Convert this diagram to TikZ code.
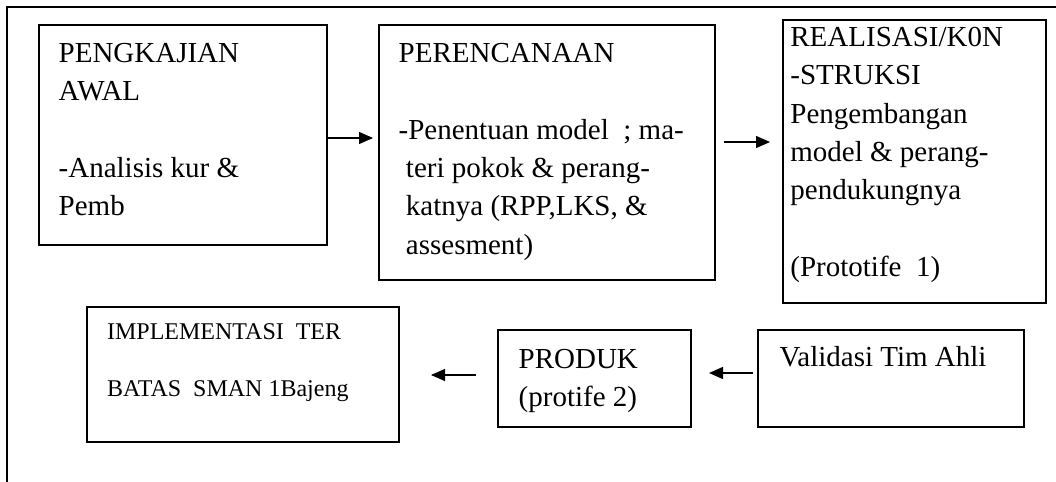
\documentclass[tikz,border=0pt]{standalone}
\usepackage{fontspec}
\setmainfont{Liberation Serif}
\usetikzlibrary{arrows.meta}
\newcommand{\boxlines}[1]{\begin{tabular}[t]{@{}l@{}}#1\end{tabular}}
\begin{document}
\begin{tikzpicture}[x=0.5pt,y=-0.5pt,
  stagebox/.style={draw,line width=1pt,inner sep=0pt,anchor=north west},
  txt/.style={anchor=base west,inner sep=0pt,font=\fontsize{14.5}{19.15}\selectfont},
  smalltxt/.style={anchor=base west,inner sep=0pt,font=\fontsize{12}{28.65}\selectfont},
  arr/.style={line width=0.65pt,-{Triangle[length=7pt,width=6pt]}},
  framelines/.style={line width=0.6pt}]
\useasboundingbox (0,0) rectangle (1056,482);
\fill[white] (0,0) rectangle (1056,482);
% outer frame (top and left only)
\draw[framelines] (1060,7) -- (7,7) -- (7,486);

% boxes
\node[stagebox,minimum width=144pt,minimum height=110pt] (b1) at (38,24) {};
\node[stagebox,minimum width=168pt,minimum height=127.5pt] (b2) at (378,24) {};
\node[stagebox,minimum width=131.5pt,minimum height=141.5pt] (b3) at (782,19) {};
\node[stagebox,minimum width=156pt,minimum height=67.5pt] (b4) at (86,306) {};
\node[stagebox,minimum width=96.5pt,minimum height=48.5pt] (b5) at (497,329) {};
\node[stagebox,minimum width=133pt,minimum height=48.5pt] (b6) at (757,329) {};

% texts
\node[txt] (t1) at (58.3,62.7) {\boxlines{PENGKAJIAN\\ AWAL\\[19.15pt] -Analisis kur \&\\ Pemb}};
\node[txt] (t2) at (398.3,62.7) {\boxlines{PERENCANAAN\\[19.15pt] -Penentuan model\ \ ; ma-\\ \hspace*{0.25em}teri pokok \& perang-\\ \hspace*{0.25em}katnya (RPP,LKS, \&\\ \hspace*{0.25em}assesment)}};
\node[txt] (t3) at (790,46.7) {\boxlines{REALISASI/K0N\\ -STRUKSI\\ Pengembangan\\ model \& perang-\\ pendukungnya\\[19.15pt] (Prototife\ \ 1)}};
\node[smalltxt] (t4) at (106.7,339.3) {\boxlines{IMPLEMENTASI\ \ TER\\ BATAS\ \ SMAN 1Bajeng}};
\node[txt] (t5) at (518.3,368.3) {\boxlines{PRODUK\\ (protife 2)}};
\node[txt] (t6) at (779.3,366.7) {Validasi Tim Ahli};

% connectors
\draw[arr,shorten >=2.5pt] (b1.east |- 0,138) -- (b2.west |- 0,138);
\draw[arr,shorten <=4pt,shorten >=6pt] (b2.east |- 0,142) -- (b3.west |- 0,142);
\draw[arr,shorten <=2pt,shorten >=8.5pt] (b6.west |- 0,373) -- (b5.east |- 0,373);
\draw[arr,shorten <=10.5pt,shorten >=15.5pt] (b5.west |- 0,375) -- (b4.east |- 0,375);
\end{tikzpicture}
\end{document}
